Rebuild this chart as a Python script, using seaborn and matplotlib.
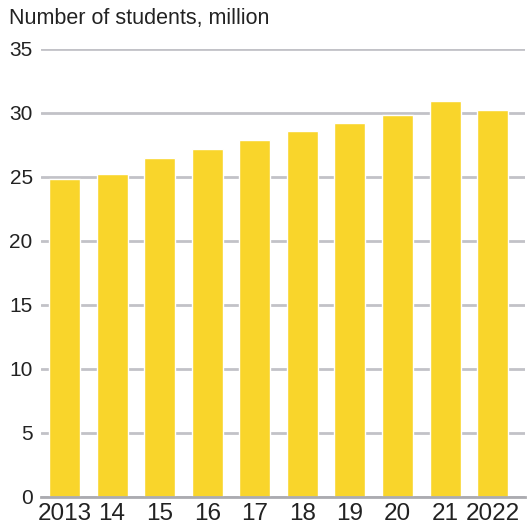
import matplotlib
matplotlib.use("Agg")
import matplotlib.pyplot as plt
import seaborn as sns

# Данные
years = ["2013", "14", "15", "16", "17", "18", "19", "20", "21", "2022"]
students = [24.8, 25.2, 26.5, 27.2, 27.9, 28.6, 29.2, 29.8, 30.9, 30.2]
yticks = [0, 5, 10, 15, 20, 25, 30, 35]

sns.set_style("white")
plt.rcParams["font.family"] = ["Liberation Sans", "DejaVu Sans"]

fig = plt.figure(figsize=(5.3, 5.27), dpi=100)
ax = fig.add_axes([41 / 530, 1 - 497 / 527, (525 - 41) / 530, (497 - 48.7) / 527])

sns.barplot(x=years, y=students, color="#F9D52B", saturation=1, width=0.65, ax=ax)

ax.set_ylim(0, 35)
ax.set_xlim(-0.494, 9.68)
ax.set_yticks(yticks)
ax.set_yticklabels([str(t) for t in yticks])
ax.yaxis.grid(True, color="#C2C2C7", lw=2)
ax.set_axisbelow(True)
for s in ["top", "right", "left"]:
    ax.spines[s].set_visible(False)
ax.spines["bottom"].set_color("#ABABB0")
ax.spines["bottom"].set_linewidth(2)
ax.tick_params(axis="y", length=0, pad=6, labelsize=15, labelcolor="#222222")
ax.tick_params(axis="x", length=0, pad=4, labelsize=17.5, labelcolor="#222222")
ax.set_xlabel("")
ax.set_ylabel("")

fig.text(9 / 530, 1 - 8 / 527, "Number of students, million", ha="left", va="top",
         fontsize=15.5, color="#222222")

fig.savefig("out.png", dpi=100)
